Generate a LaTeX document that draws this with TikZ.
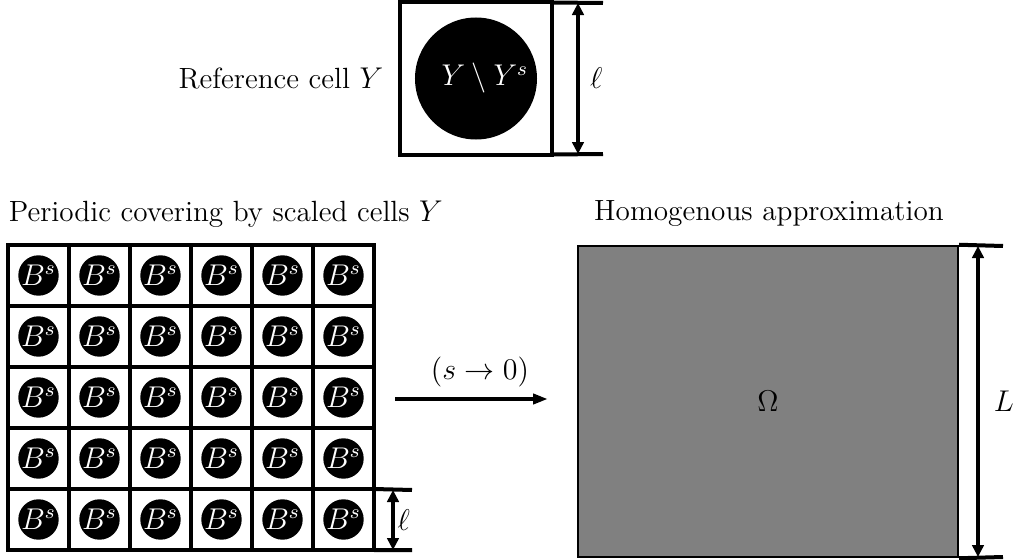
\documentclass[tikz,border=0pt]{standalone}
\usetikzlibrary{arrows.meta}
\begin{document}
\begin{tikzpicture}[x=0.4pt,y=-0.4pt,
  every node/.style={font=\fontsize{11.7pt}{14pt}\selectfont},
  thick line/.style={line width=1.6pt},
  dimarrow/.style={line width=1.6pt,{Triangle[length=4.8pt,width=4.6pt]}-{Triangle[length=4.8pt,width=4.6pt]}},
  cellbox/.style={draw,line width=1.6pt,minimum size=24.4pt,inner sep=0pt,outer sep=0pt},
  disk/.style={circle,fill=black,text=white,inner sep=0pt},
]
\useasboundingbox (0,0) rectangle (1016,560);
% reference cell
\node[cellbox,minimum size=60.8pt] (refcell) at (476,78.5) {};
\node[disk,minimum size=48.8pt] (refdisk) at (476,78.5) {};
\node[text=white] (reftext) at (485,78.5) {$Y\setminus Y^s$};
\node[anchor=east] (reflabel) at (392,78.5) {Reference cell $Y$};
\coordinate (rt) at (603,3);
\coordinate (rb) at (603,154);
\draw[thick line] (refcell.north east) -- (rt);
\draw[thick line] (refcell.south east) -- (rb);
\coordinate (ra) at (578,3);
\coordinate (rc) at (578,154);
\draw[dimarrow] (ra) -- (rc) node[midway,right,inner sep=4pt] (refell) {$\ell$};
% headings
\node[anchor=west] (perlabel) at (0,214) {Periodic covering by scaled cells $Y$};
\node (homlabel) at (769,214) {Homogenous approximation};
% grid
\foreach \i in {0,...,5}{
  \foreach \j in {0,...,4}{
    \node[cellbox] (c-\i-\j) at ({8+61*(\i+0.5)},{245+61*(\j+0.5)}) {};
    \node[disk,minimum size=16pt] (b-\i-\j) at (c-\i-\j) {$B^s$};
  }
}
\coordinate (gt) at (412,490);
\coordinate (gb) at (412,550);
\draw[thick line] (c-5-4.north east) -- (gt);
\draw[thick line] (c-5-4.south east) -- (gb);
\coordinate (ga) at (393,490);
\coordinate (gc) at (393,550);
\draw[dimarrow] (ga) -- (gc) node[midway,right,inner sep=1pt] (gell) {$\ell$};
% homogenised domain
\node[draw,fill=gray,line width=0.8pt,minimum width=152pt,minimum height=124.6pt,inner sep=0pt] (omega) at (768,401.5) {$\Omega$};
\coordinate (ot) at (1003,246);
\coordinate (ob) at (1003,557);
\draw[thick line] (omega.north east) -- (ot);
\draw[thick line] (omega.south east) -- (ob);
\coordinate (oa) at (978,246);
\coordinate (oc) at (978,557);
\draw[dimarrow] (oa) -- (oc) node[midway,right,inner sep=5.5pt] (oell) {$L$};
% limit arrow
\coordinate (la) at (395,399);
\coordinate (lb) at (548,399);
\draw[thick line,-{Triangle[length=6pt,width=4pt]}] (la) -- (lb);
\node (limlabel) at (480,372) {$(s\to 0)$};
\end{tikzpicture}
\end{document}
